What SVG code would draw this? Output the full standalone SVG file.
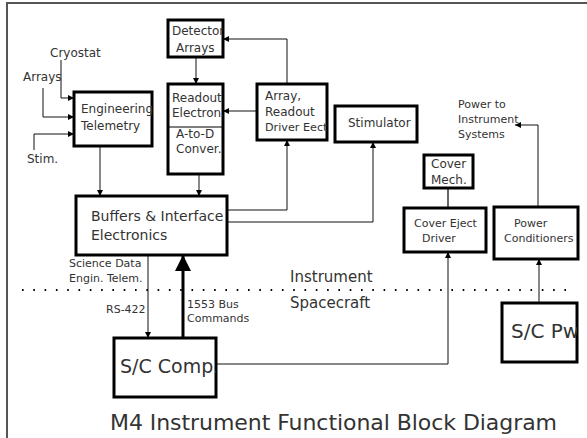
<svg xmlns="http://www.w3.org/2000/svg" width="587" height="438" viewBox="0 0 587 438">
<style>
text{font-family:"DejaVu Sans","Liberation Sans",sans-serif;fill:#333}
.box{fill:#fff;stroke:#000;stroke-width:3}
.s{font-size:11px}
.m{font-size:12px}
.l{font-size:14px}
.xl{font-size:20px}
.c{fill:none;stroke:#111;stroke-width:1}
</style>
<defs>
<marker id="a" viewBox="0 0 6 6" refX="6" refY="3" markerWidth="6" markerHeight="6" markerUnits="userSpaceOnUse" orient="auto"><path d="M0,0L6,3L0,6z" fill="#000"/></marker>
<marker id="big" viewBox="0 0 16 16" refX="16" refY="8" markerWidth="16" markerHeight="16" markerUnits="userSpaceOnUse" orient="auto"><path d="M0,0L16,8L0,16z" fill="#000"/></marker>
<clipPath id="cDet"><rect x="168" y="20" width="55" height="37"/></clipPath>
<clipPath id="cRO"><rect x="168" y="84" width="55" height="90"/></clipPath>
<clipPath id="cArr"><rect x="257" y="84" width="70" height="56"/></clipPath>
<clipPath id="cPC"><rect x="494" y="207" width="84" height="52"/></clipPath>
<clipPath id="cPwr"><rect x="502" y="303" width="75" height="59"/></clipPath>
<clipPath id="cSC"><rect x="114" y="338" width="102" height="59"/></clipPath>
</defs>
<rect width="587" height="438" fill="#fff"/>
<path d="M7,438V3H587" fill="none" stroke="#555" stroke-width="2"/>
<line x1="22" y1="290" x2="572" y2="290" stroke="#000" stroke-width="2" stroke-dasharray="1.6 9.7"/>
<text x="290" y="282" style="font-size:15px">Instrument</text>
<text x="290" y="308" style="font-size:15px">Spacecraft</text>
<text x="110" y="430" style="font-size:22px" textLength="447">M4 Instrument Functional Block Diagram</text>

<g id="connectors">
<path class="c" d="M196,57V84" marker-end="url(#a)"/>
<path class="c" d="M287,84V39H223" marker-end="url(#a)"/>
<path class="c" d="M257,111H223" marker-end="url(#a)"/>
<path class="c" d="M199,174V196" marker-end="url(#a)"/>
<path class="c" d="M100,146V196" marker-end="url(#a)"/>
<path class="c" d="M227,210H287V140" marker-end="url(#a)"/>
<path class="c" d="M227,222H373V142" marker-end="url(#a)"/>
<path class="c" d="M61,60V98H74" marker-end="url(#a)"/>
<path class="c" d="M43,88V117H74" marker-end="url(#a)"/>
<path class="c" d="M34,150V134H74" marker-end="url(#a)"/>
<path class="c" d="M148,255V338" marker-end="url(#a)"/>
<path d="M183,338V255" fill="none" stroke="#000" stroke-width="3" marker-end="url(#big)"/>
<path class="c" d="M216,364H448V252" marker-end="url(#a)"/>
<path d="M448,208V188" fill="none" stroke="#666" stroke-width="2"/>
<path class="c" d="M539,303V259" marker-end="url(#a)"/>
<path class="c" d="M538,207V125H515" marker-end="url(#a)"/>
</g>

<g id="labels">
<text class="m" x="50" y="57">Cryostat</text>
<text class="m" x="23" y="81">Arrays</text>
<text class="m" x="27" y="163">Stim.</text>
<text class="s" x="69" y="267">Science Data</text>
<text class="s" x="69" y="282">Engin. Telem.</text>
<text class="s" x="106" y="313">RS-422</text>
<text class="s" x="187" y="308">1553 Bus</text>
<text class="s" x="187" y="322">Commands</text>
<text class="s" x="458" y="108">Power to</text>
<text class="s" x="458" y="123">Instrument</text>
<text class="s" x="458" y="138">Systems</text>
</g>

<g id="detector">
<rect class="box" x="168" y="20" width="55" height="37"/>
<g clip-path="url(#cDet)"><text class="m" x="172" y="35">Detector</text>
<text class="m" x="176" y="52">Arrays</text></g>
</g>
<g id="readout">
<rect class="box" x="168" y="84" width="55" height="90"/>
<line x1="168" y1="127" x2="223" y2="127" stroke="#000" stroke-width="1"/>
<g clip-path="url(#cRO)"><text class="m" x="172" y="102">Readout</text>
<text class="m" x="172" y="117">Electron.</text>
<text class="m" x="176" y="138">A-to-D</text>
<text class="m" x="176" y="153">Conver.</text></g>
</g>
<g id="driver">
<rect class="box" x="257" y="84" width="70" height="56"/>
<g clip-path="url(#cArr)"><text class="m" x="265" y="100">Array,</text>
<text class="m" x="265" y="116">Readout</text>
<text class="m" x="265" y="131" style="font-size:11.2px">Driver Eect.</text></g>
</g>
<g id="stimulator">
<rect class="box" x="335" y="106" width="82" height="36"/>
<text class="m" x="348" y="127">Stimulator</text>
</g>
<g id="engtelem">
<rect class="box" x="74" y="92" width="78" height="54"/>
<text class="m" x="81" y="113">Engineering</text>
<text class="m" x="81" y="130">Telemetry</text>
</g>
<g id="buffers">
<rect class="box" x="76" y="196" width="151" height="59"/>
<text class="l" x="91" y="221">Buffers &amp; Interface</text>
<text class="l" x="91" y="240">Electronics</text>
</g>
<g id="sccomp">
<rect class="box" x="114" y="338" width="102" height="59"/>
<g clip-path="url(#cSC)"><text class="xl" x="120" y="373" style="font-size:19px">S/C Comp.</text></g>
</g>
<g id="covermech">
<rect class="box" x="424" y="155" width="49" height="33"/>
<text class="m" x="431" y="168">Cover</text>
<text class="m" x="431" y="184">Mech.</text>
</g>
<g id="covereject">
<rect class="box" x="404" y="208" width="82" height="44"/>
<text class="s" x="414" y="227">Cover Eject</text>
<text class="s" x="422" y="242">Driver</text>
</g>
<g id="powercond">
<rect class="box" x="494" y="207" width="84" height="52"/>
<g clip-path="url(#cPC)"><text class="s" x="514" y="227">Power</text>
<text class="s" x="504" y="242">Conditioners</text></g>
</g>
<g id="scpwr">
<rect class="box" x="502" y="303" width="75" height="59"/>
<g clip-path="url(#cPwr)"><text class="xl" x="511" y="338">S/C Pwr</text></g>
</g>
</svg>
